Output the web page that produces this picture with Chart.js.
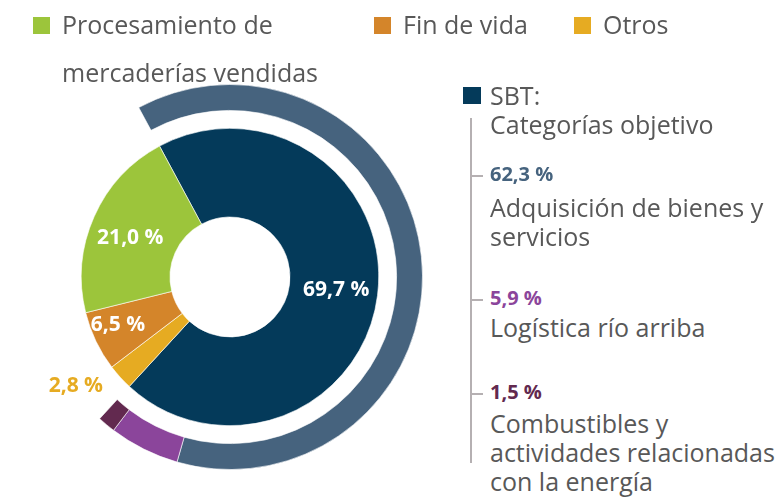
<html>
<head>
<title>SBT categorías</title>
<script src="https://cdn.jsdelivr.net/npm/chart.js@4.4.0/dist/chart.umd.min.js"></script>
<style>
    body { margin: 0; background: #fff; font-family: "Open Sans", sans-serif; color: #585858; }
    #wrap { position: relative; width: 779px; height: 499px; overflow: hidden; }
    #chart { position: absolute; left: 37px; top: 84px; }
    .t { position: absolute; white-space: nowrap; }
    .sq { position: absolute; width: 17px; height: 17px; }
    .leg { font-size: 25px; line-height: 48px; }
    .side { font-size: 25px; line-height: 29px; }
    .pct { font-size: 20px; font-weight: bold; line-height: 20px; }
    #vline { position: absolute; left: 470px; top: 118px; width: 2px; height: 345px; background: #b5b0b2; }
    .tick { position: absolute; left: 470px; width: 13px; height: 2px; background: #b5b0b2; }
</style>
</head>
<body>
<div id="wrap">
    <canvas id="chart" width="386" height="386"></canvas>
    <div id="legend"></div>
    <div id="side"></div>
    <div id="vline"></div>
</div>
<script type="text/javascript">
// inner ring: total footprint
var innerCats = ["SBT", "Otros", "Fin de vida", "Procesamiento de mercaderías vendidas"];
var innerValues = [69.7, 2.8, 6.5, 21.0];
var innerColors = ["#043a5a", "#e6ab22", "#d4852a", "#9cc53b"];

// outer ring: SBT target categories
var outerCats = ["Adquisición de bienes y servicios", "Logística río arriba", "Combustibles y actividades relacionadas con la energía"];
var outerValues = [62.3, 5.9, 1.5];
var outerColors = ["#46637e", "#8b459b", "#62294f"];

function fmt(v) { return v.toFixed(1).replace('.', ',') + ' %'; }

// top legend (inner categories without SBT)
var legend = document.getElementById('legend');
var legItems = [
    { i: 3, x: 33, text: "Procesamiento de<br>mercaderías vendidas" },
    { i: 2, x: 374, text: innerCats[2] },
    { i: 1, x: 574, text: innerCats[1] }
];
legItems.forEach(function (it) {
    var s = document.createElement('div');
    s.className = 'sq';
    s.style.left = it.x + 'px';
    s.style.top = '17px';
    s.style.background = innerColors[it.i];
    legend.appendChild(s);
    var t = document.createElement('div');
    t.className = 't leg';
    t.style.left = (it.x + 29) + 'px';
    t.style.top = '0px';
    t.innerHTML = it.text;
    legend.appendChild(t);
});

// right side block
var side = document.getElementById('side');
function addText(cls, x, y, html, color) {
    var t = document.createElement('div');
    t.className = 't ' + cls;
    t.style.left = x + 'px';
    t.style.top = y + 'px';
    if (color) t.style.color = color;
    t.innerHTML = html;
    side.appendChild(t);
}
var sq = document.createElement('div');
sq.className = 'sq';
sq.style.left = '463px'; sq.style.top = '87px'; sq.style.width = '18px';
sq.style.background = innerColors[0];
side.appendChild(sq);
addText('side', 490, 81, "SBT:<br>Categorías objetivo");

var pctTops = [164, 288, 382];
var textTops = [193, 313, 409];
var blockLabels = ["Adquisición de bienes y<br>servicios", "Logística río arriba", "Combustibles y<br>actividades relacionadas<br>con la energía"];
outerValues.forEach(function (v, i) {
    addText('pct', 490, pctTops[i], fmt(v), outerColors[i]);
    addText('side', 490, textTops[i], blockLabels[i]);
    var tk = document.createElement('div');
    tk.className = 'tick';
    tk.style.top = (pctTops[i] + 11) + 'px';
    side.appendChild(tk);
});

// label settings for inner ring slices
var labelRadius = [107, 189, 122, 107];
var labelTurn = [0, 7, 2.4, -2.6];
var labelColors = ["#ffffff", "#e6ab22", "#ffffff", "#ffffff"];

var sliceLabels = {
    id: 'sliceLabels',
    afterDatasetsDraw: function (chart) {
        var ctx = chart.ctx;
        var meta = chart.getDatasetMeta(2);
        ctx.save();
        ctx.font = 'bold 21px "Open Sans"';
        ctx.textAlign = 'center';
        ctx.textBaseline = 'middle';
        meta.data.forEach(function (arc, i) {
            var p = arc.getProps(['x', 'y', 'startAngle', 'endAngle'], true);
            var mid = (p.startAngle + p.endAngle) / 2 + labelTurn[i] * Math.PI / 180;
            var r = labelRadius[i];
            ctx.fillStyle = labelColors[i];
            ctx.fillText(fmt(innerValues[i]), p.x + Math.cos(mid) * r, p.y + Math.sin(mid) * r);
        });
        ctx.restore();
    }
};

var outerRest = 100 - outerValues.reduce(function (a, b) { return a + b; }, 0);

var ctx = document.getElementById('chart').getContext('2d');
var myChart = new Chart(ctx, {
    type: 'doughnut',
    data: {
        labels: innerCats,
        datasets: [{
            data: outerValues.concat([outerRest]),
            backgroundColor: outerColors.concat(['rgba(0,0,0,0)']),
            borderColor: 'rgba(255,255,255,0.6)',
            borderWidth: [1, 1, 1, 0],
            weight: 26
        }, {
            data: [100],
            backgroundColor: ['rgba(0,0,0,0)'],
            borderWidth: 0,
            weight: 18
        }, {
            data: innerValues,
            backgroundColor: innerColors,
            borderColor: 'rgba(255,255,255,0.6)',
            borderWidth: 1,
            weight: 89
        }]
    },
    options: {
        responsive: false,
        animation: false,
        rotation: -28.3,
        cutout: 60,
        layout: { padding: 0 },
        plugins: {
            legend: { display: false },
            tooltip: { enabled: false }
        }
    },
    plugins: [sliceLabels]
});
</script>
</body>
</html>
